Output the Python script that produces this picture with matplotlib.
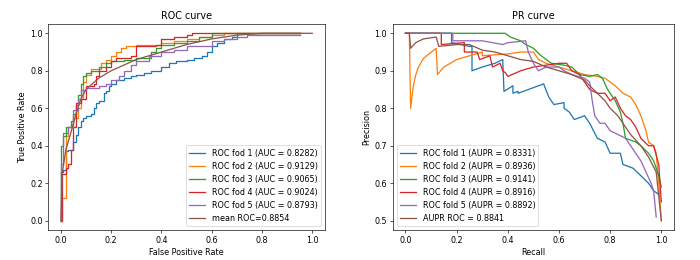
import matplotlib.pyplot as plt

# ROC curve points per fold
fpr_1 = [0.0, 0.0, 0.01, 0.02, 0.03, 0.05, 0.06, 0.07, 0.08, 0.09, 0.1, 0.12, 0.13, 0.14, 0.15, 0.17, 0.18, 0.19, 0.2, 0.22, 0.25,
         0.28, 0.3, 0.33, 0.36, 0.4, 0.43, 0.46, 0.5, 0.53, 0.56, 0.58, 0.6, 0.62, 0.65, 0.68, 0.7, 0.95]
tpr_1 = [0.0, 0.26, 0.27, 0.37, 0.38, 0.42, 0.46, 0.5, 0.53, 0.55, 0.56, 0.57, 0.6, 0.63, 0.64, 0.68, 0.69, 0.72, 0.73, 0.75, 0.76,
         0.77, 0.78, 0.79, 0.8, 0.82, 0.84, 0.85, 0.86, 0.87, 0.88, 0.9, 0.93, 0.95, 0.97, 0.98, 1.0, 1.0]
fpr_2 = [0.0, 0.005, 0.02, 0.03, 0.05, 0.07, 0.08, 0.09, 0.1, 0.12, 0.15, 0.16, 0.18, 0.2, 0.22, 0.24, 0.26, 0.3, 0.35, 0.4, 0.45,
         0.5, 0.55, 0.6, 0.65, 0.95]
tpr_2 = [0.0, 0.12, 0.45, 0.5, 0.55, 0.6, 0.65, 0.74, 0.78, 0.81, 0.81, 0.84, 0.86, 0.88, 0.9, 0.92, 0.93, 0.94, 0.94, 0.95, 0.96,
         0.97, 0.98, 0.99, 1.0, 1.0]
fpr_3 = [0.0, 0.0, 0.01, 0.02, 0.04, 0.05, 0.06, 0.07, 0.08, 0.09, 0.1, 0.12, 0.15, 0.18, 0.2, 0.25, 0.3, 0.34, 0.36, 0.38, 0.4,
         0.45, 0.5, 0.55, 0.6, 0.95]
tpr_3 = [0.0, 0.4, 0.45, 0.5, 0.53, 0.57, 0.62, 0.67, 0.73, 0.77, 0.79, 0.8, 0.82, 0.84, 0.85, 0.86, 0.87, 0.87, 0.9, 0.92, 0.94,
         0.95, 0.96, 0.98, 1.0, 1.0]
fpr_4 = [0.0, 0.005, 0.02, 0.03, 0.04, 0.05, 0.06, 0.08, 0.1, 0.13, 0.14, 0.15, 0.18, 0.2, 0.22, 0.28, 0.3, 0.38, 0.4, 0.45, 0.5,
         0.52, 0.95]
tpr_4 = [0.0, 0.25, 0.28, 0.3, 0.38, 0.5, 0.63, 0.65, 0.72, 0.73, 0.77, 0.8, 0.82, 0.85, 0.87, 0.88, 0.93, 0.94, 0.97, 0.98, 0.99,
         1.0, 1.0]
fpr_5 = [0.0, 0.0, 0.01, 0.03, 0.05, 0.07, 0.08, 0.1, 0.15, 0.18, 0.2, 0.23, 0.25, 0.28, 0.3, 0.35, 0.4, 0.45, 0.5, 0.6, 0.65,
         0.7, 0.74, 0.95]
tpr_5 = [0.0, 0.3, 0.47, 0.5, 0.59, 0.65, 0.7, 0.71, 0.72, 0.73, 0.75, 0.77, 0.8, 0.83, 0.85, 0.88, 0.9, 0.91, 0.93, 0.96, 0.97,
         0.98, 0.99, 0.99]
fpr_mean = [0.0, 0.005, 0.02, 0.04, 0.06, 0.08, 0.1, 0.15, 0.2, 0.25, 0.3, 0.4, 0.5, 0.6, 0.7, 0.8, 1.0]
tpr_mean = [0.0, 0.25, 0.38, 0.47, 0.57, 0.65, 0.7, 0.76, 0.8, 0.83, 0.86, 0.9, 0.94, 0.97, 0.99, 1.0, 1.0]
roc_auc = [0.8282, 0.9129, 0.9065, 0.9024, 0.8793]
mean_auc = 0.8854

# PR curve points per fold
rec_1 = [0.0, 0.18, 0.18, 0.25, 0.26, 0.26, 0.3, 0.35, 0.38, 0.385, 0.42, 0.42, 0.44, 0.44, 0.5, 0.54, 0.56, 0.58, 0.62, 0.62,
         0.64, 0.66, 0.7, 0.72, 0.75, 0.78, 0.8, 0.84, 0.85, 0.89, 0.92, 0.95, 0.97, 0.99]
prec_1 = [1.0, 1.0, 0.975, 0.965, 0.965, 0.9, 0.91, 0.92, 0.93, 0.845, 0.86, 0.84, 0.845, 0.84, 0.855, 0.865, 0.83, 0.81, 0.815,
          0.8, 0.79, 0.77, 0.78, 0.76, 0.72, 0.71, 0.68, 0.68, 0.65, 0.64, 0.62, 0.6, 0.58, 0.57]
rec_2 = [0.0, 0.015, 0.02, 0.03, 0.04, 0.05, 0.07, 0.09, 0.12, 0.125, 0.15, 0.2, 0.25, 0.3, 0.3, 0.4, 0.45, 0.5, 0.52, 0.55,
         0.6, 0.65, 0.7, 0.75, 0.78, 0.8, 0.82, 0.85, 0.88, 0.9, 0.92, 0.94, 0.95, 0.97, 0.98, 0.99, 1.0]
prec_2 = [1.0, 1.0, 0.8, 0.857, 0.889, 0.909, 0.933, 0.944, 0.96, 0.89, 0.91, 0.93, 0.94, 0.95, 0.94, 0.945, 0.95, 0.95, 0.93,
          0.92, 0.91, 0.9, 0.89, 0.885, 0.88, 0.87, 0.86, 0.84, 0.83, 0.81, 0.78, 0.74, 0.71, 0.7, 0.68, 0.6, 0.5]
rec_3 = [0.0, 0.39, 0.41, 0.45, 0.47, 0.5, 0.53, 0.55, 0.57, 0.62, 0.65, 0.68, 0.72, 0.75, 0.77, 0.79, 0.82, 0.84, 0.85, 0.86,
         0.9, 0.92, 0.95, 0.97, 0.99, 1.0]
prec_3 = [1.0, 1.0, 0.99, 0.98, 0.97, 0.96, 0.94, 0.93, 0.92, 0.915, 0.91, 0.89, 0.885, 0.89, 0.88, 0.85, 0.82, 0.79, 0.76, 0.72,
          0.71, 0.7, 0.68, 0.66, 0.62, 0.59]
rec_4 = [0.0, 0.14, 0.14, 0.23, 0.23, 0.28, 0.29, 0.33, 0.34, 0.37, 0.38, 0.39, 0.4, 0.45, 0.5, 0.55, 0.6, 0.63, 0.65, 0.68,
         0.7, 0.72, 0.75, 0.78, 0.8, 0.82, 0.84, 0.86, 0.88, 0.9, 0.92, 0.95, 0.97, 0.99, 1.0]
prec_4 = [1.0, 1.0, 0.97, 0.975, 0.95, 0.95, 0.93, 0.94, 0.91, 0.92, 0.9, 0.895, 0.885, 0.9, 0.91, 0.915, 0.92, 0.92, 0.9, 0.89,
          0.87, 0.85, 0.84, 0.84, 0.82, 0.83, 0.8, 0.78, 0.77, 0.75, 0.72, 0.7, 0.7, 0.65, 0.55]
rec_5 = [0.0, 0.185, 0.185, 0.3, 0.38, 0.4, 0.47, 0.48, 0.5, 0.52, 0.55, 0.6, 0.62, 0.65, 0.7, 0.72, 0.73, 0.74, 0.76, 0.78,
         0.8, 0.83, 0.86, 0.88, 0.9, 0.92, 0.94, 0.96, 0.97, 0.98]
prec_5 = [1.0, 1.0, 0.98, 0.98, 0.97, 0.975, 0.98, 0.95, 0.92, 0.9, 0.91, 0.91, 0.9, 0.89, 0.88, 0.87, 0.82, 0.78, 0.76, 0.76,
          0.74, 0.73, 0.72, 0.7, 0.68, 0.66, 0.63, 0.6, 0.58, 0.51]
rec_mean = [0.0, 0.015, 0.02, 0.04, 0.07, 0.12, 0.13, 0.2, 0.25, 0.3, 0.35, 0.4, 0.45, 0.5, 0.55, 0.6, 0.65, 0.7, 0.72, 0.75,
            0.78, 0.8, 0.83, 0.85, 0.88, 0.92, 0.95, 0.98, 1.0]
prec_mean = [1.0, 1.0, 0.96, 0.975, 0.985, 0.99, 0.965, 0.97, 0.97, 0.955, 0.95, 0.94, 0.93, 0.925, 0.91, 0.9, 0.89, 0.875,
             0.86, 0.84, 0.82, 0.8, 0.78, 0.76, 0.73, 0.7, 0.67, 0.63, 0.5]
pr_auc = [0.8331, 0.8936, 0.9141, 0.8916, 0.8892]
mean_aupr = 0.8841

colors = ['#1f77b4', '#ff7f0e', '#2ca02c', '#d62728', '#9467bd', '#8c564b']

# original looks like a default-styled figure shrunk down, so draw at a low dpi
fig = plt.figure(figsize=(700 / 58, 260 / 58), dpi=58)
ax1 = fig.add_axes([0.069, 0.115, 0.395, 0.793])
ax2 = fig.add_axes([0.561, 0.115, 0.402, 0.793])

fprs = [fpr_1, fpr_2, fpr_3, fpr_4, fpr_5]
tprs = [tpr_1, tpr_2, tpr_3, tpr_4, tpr_5]
for i in range(5):
    ax1.plot(fprs[i], tprs[i], drawstyle='steps-post', lw=1.6, color=colors[i],
             label=F"ROC fod {i + 1} (AUC = {roc_auc[i]:.4f})")
ax1.plot(fpr_mean, tpr_mean, lw=1.6, color=colors[5], label=F"mean ROC={mean_auc}")
ax1.set_xlabel('False Positive Rate')
ax1.set_ylabel('True Positive Rate')
ax1.set_title('ROC curve')
ax1.set_xlim(-0.05, 1.05)
ax1.set_ylim(-0.05, 1.05)
ax1.legend(loc='lower right')

recs = [rec_1, rec_2, rec_3, rec_4, rec_5]
precs = [prec_1, prec_2, prec_3, prec_4, prec_5]
for i in range(5):
    ax2.plot(recs[i], precs[i], lw=1.6, color=colors[i],
             label=F"ROC fold {i + 1} (AUPR = {pr_auc[i]:.4f})")
ax2.plot(rec_mean, prec_mean, lw=1.6, color=colors[5], label=F"AUPR ROC = {mean_aupr}")
ax2.set_xlabel('Recall')
ax2.set_ylabel('Precision')
ax2.set_title('PR curve')
ax2.set_xlim(-0.05, 1.05)
ax2.set_ylim(0.475, 1.025)
ax2.legend(loc='lower left')

plt.savefig('out.png')
